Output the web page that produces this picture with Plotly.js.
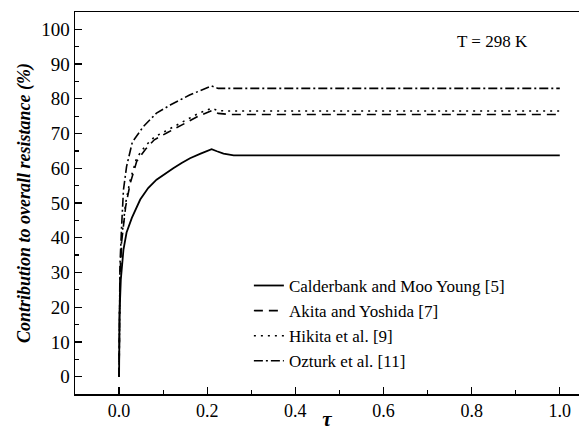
<!DOCTYPE html>
<html>
<head>
<meta charset="utf-8">
<script src="https://cdn.plot.ly/plotly-3.0.1.min.js"></script>
<style>html,body{margin:0;padding:0;overflow:hidden;background:#fff;}</style>
</head>
<body>
<div id="chart" style="width:579px;height:431px;"></div>
<script>
// Calderbank and Moo Young [5]
const tauCalderbank = [0, 0.001, 0.004, 0.01, 0.017, 0.029, 0.048, 0.066, 0.085, 0.105, 0.123, 0.142, 0.161, 0.185, 0.21, 0.222, 0.237, 0.26, 0.4, 0.6, 0.8, 1.0];
const resCalderbank = [0, 18, 28, 36.6, 41.5, 45.7, 51, 54.3, 56.7, 58.5, 60, 61.5, 62.9, 64.2, 65.5, 64.9, 64.2, 63.7, 63.7, 63.7, 63.7, 63.7];

// Akita and Yoshida [7]
const tauAkita = [0, 0.002, 0.006, 0.01, 0.015, 0.025, 0.04, 0.06, 0.08, 0.11, 0.15, 0.18, 0.21, 0.225, 0.25, 0.4, 0.6, 0.8, 1.0];
const resAkita = [0, 28, 39, 44, 49, 55.5, 62, 65.5, 68.2, 70.3, 73, 75, 76.6, 75.8, 75.5, 75.5, 75.5, 75.5, 75.5];

// Hikita et al. [9]
const tauHikita = [0, 0.002, 0.006, 0.01, 0.015, 0.025, 0.04, 0.06, 0.08, 0.11, 0.15, 0.18, 0.21, 0.225, 0.25, 0.4, 0.6, 0.8, 1.0];
const resHikita = [0, 29, 40, 45, 50, 56.5, 63, 66.5, 69, 71, 73.8, 75.8, 77.3, 76.6, 76.5, 76.5, 76.5, 76.5, 76.5];

// Ozturk et al. [11]
const tauOzturk = [0, 0.002, 0.006, 0.01, 0.017, 0.03, 0.055, 0.085, 0.116, 0.16, 0.21, 0.225, 0.4, 0.6, 0.8, 1.0];
const resOzturk = [0, 32, 44, 53.8, 60.5, 67.5, 72, 75.9, 78.2, 81.1, 83.7, 83, 83, 83, 83, 83];

const seriesNames = ["Calderbank and Moo Young [5]", "Akita and Yoshida [7]", "Hikita et al. [9]", "Ozturk et al. [11]"];
const xTitle = "τ";
const yTitle = "Contribution to overall resistance (%)";
const noteText = "T = 298 K";

const serif = "Liberation Serif, Times New Roman, serif";
const traces = [
  {x: tauCalderbank, y: resCalderbank, name: seriesNames[0], mode: "lines", line: {color: "#000", width: 1.8}},
  {x: tauAkita, y: resAkita, name: seriesNames[1], mode: "lines", line: {color: "#000", width: 1.6, dash: "9px,6px"}},
  {x: tauHikita, y: resHikita, name: seriesNames[2], mode: "lines", line: {color: "#000", width: 1.6, dash: "2px,5px"}},
  {x: tauOzturk, y: resOzturk, name: seriesNames[3], mode: "lines", line: {color: "#000", width: 1.6, dash: "9px,3px,2px,3px"}}
];

const layout = {
  width: 579, height: 431,
  margin: {l: 75, r: 0, t: 12, b: 37},
  paper_bgcolor: "#fff", plot_bgcolor: "#fff",
  font: {family: serif, size: 18, color: "#000"},
  showlegend: true,
  legend: {x: 0.345, y: 0.33, xanchor: "left", yanchor: "top", bgcolor: "rgba(0,0,0,0)",
           font: {family: serif, size: 17, color: "#000"}, tracegroupgap: 0},
  xaxis: {
    range: [-0.1, 1.0436], showgrid: false, zeroline: false,
    showline: true, linecolor: "#000", linewidth: 1.5, mirror: true,
    ticks: "inside", ticklen: 7, tickwidth: 1.2, tickcolor: "#000",
    tick0: 0, dtick: 0.2, tickformat: ".1f",
    minor: {dtick: 0.1, ticks: "inside", ticklen: 4, tickwidth: 1.2, tickcolor: "#000"},
    tickfont: {family: serif, size: 18, color: "#000"},
    title: {text: "<b><i>" + xTitle + "</i></b>", font: {family: serif, size: 21, color: "#000"}, standoff: 2}
  },
  yaxis: {
    range: [-5, 105], showgrid: false, zeroline: false,
    showline: true, linecolor: "#000", linewidth: 1.5, mirror: false,
    ticks: "inside", ticklen: 7, tickwidth: 1.2, tickcolor: "#000",
    tick0: 0, dtick: 10,
    minor: {dtick: 5, ticks: "inside", ticklen: 4, tickwidth: 1.2, tickcolor: "#000"},
    tickfont: {family: serif, size: 19, color: "#000"},
    title: {text: "<b><i>" + yTitle + "</i></b>", font: {family: serif, size: 18, color: "#000"}, standoff: 6}
  },
  annotations: [
    {x: 0.848, y: 96.6, xref: "x", yref: "y", text: noteText, showarrow: false,
     font: {family: serif, size: 17, color: "#000"}}
  ]
};

Plotly.newPlot("chart", traces, layout, {displayModeBar: false, staticPlot: true});
</script>
</body>
</html>
